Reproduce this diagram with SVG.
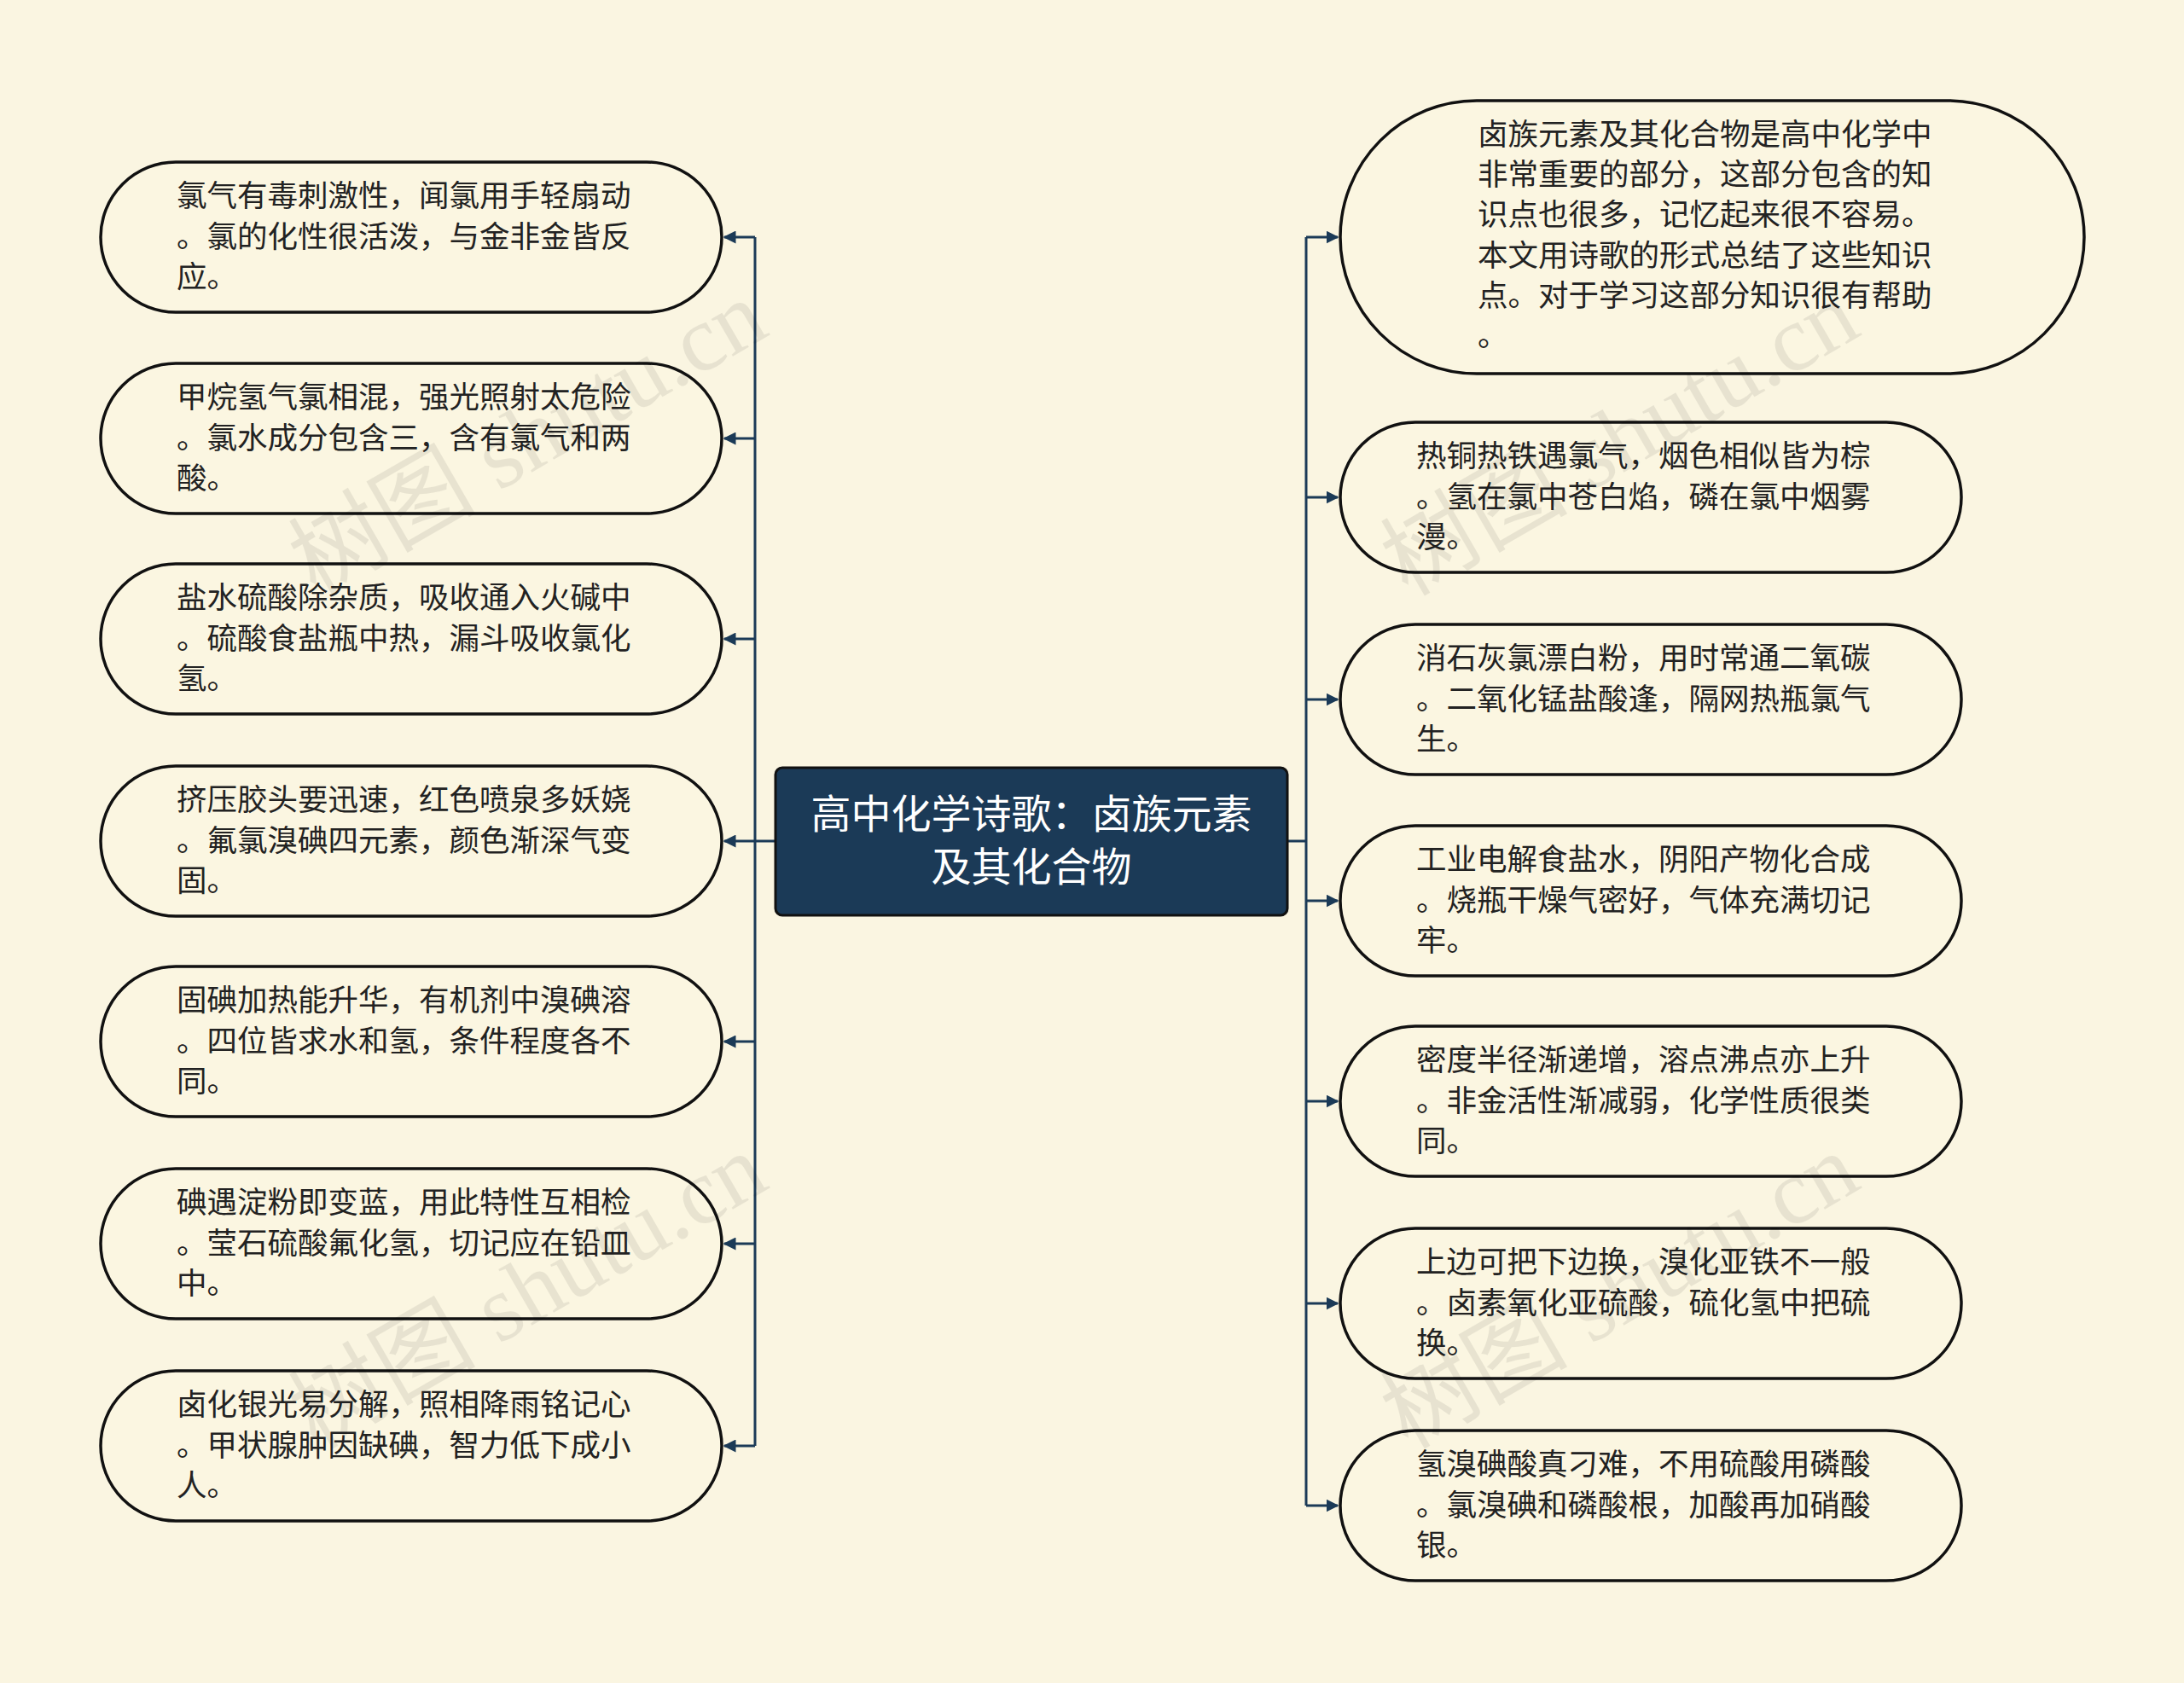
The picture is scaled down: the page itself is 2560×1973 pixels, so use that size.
<svg xmlns="http://www.w3.org/2000/svg" width="2560" height="1973" viewBox="0 0 2560 1973">
<defs>
<style>
.n{fill:#fbf6e1;stroke:#111;stroke-width:3.5}
.t{font-family:"Noto Sans CJK SC",sans-serif;font-size:35.5px;fill:#222}
.c{fill:none;stroke:#1b3a57;stroke-width:3}
.w{font-family:"Liberation Serif","Noto Sans CJK SC",serif;font-size:110px;fill:#000;opacity:0.07}
</style>
<marker id="a" viewBox="0 0 10 10" refX="9" refY="5" markerWidth="5" markerHeight="5" orient="auto"><path d="M0,0L10,5L0,10z" fill="#1b3a57"/></marker>
</defs>
<rect width="2560" height="1973" fill="#faf5e1"/>
<g id="connectors">
<path class="c" d="M1509,986H1531M1531,278V1765"/>
<path class="c" d="M1531,278H1568" marker-end="url(#a)"/><path class="c" d="M1531,583H1568" marker-end="url(#a)"/><path class="c" d="M1531,820H1568" marker-end="url(#a)"/><path class="c" d="M1531,1056H1568" marker-end="url(#a)"/><path class="c" d="M1531,1291H1568" marker-end="url(#a)"/><path class="c" d="M1531,1528H1568" marker-end="url(#a)"/><path class="c" d="M1531,1765H1568" marker-end="url(#a)"/>
<path class="c" d="M909,986H885M885,278V1695"/>
<path class="c" d="M885,278H849" marker-end="url(#a)"/><path class="c" d="M885,514H849" marker-end="url(#a)"/><path class="c" d="M885,749H849" marker-end="url(#a)"/><path class="c" d="M885,986H849" marker-end="url(#a)"/><path class="c" d="M885,1221H849" marker-end="url(#a)"/><path class="c" d="M885,1458H849" marker-end="url(#a)"/><path class="c" d="M885,1695H849" marker-end="url(#a)"/>
</g>
<g id="center"><rect x="909" y="900" width="600" height="173" rx="8" fill="#1b3a57" stroke="#111" stroke-width="3"/>
<text x="1209" y="971" text-anchor="middle" font-family="Noto Sans CJK SC,sans-serif" font-size="47" fill="#fff">高中化学诗歌：卤族元素</text>
<text x="1209" y="1033" text-anchor="middle" font-family="Noto Sans CJK SC,sans-serif" font-size="47" fill="#fff">及其化合物</text></g>
<g id="L1"><rect class="n" x="118" y="190" width="728" height="176" rx="88"/><text class="t" x="207" y="242">氯气有毒刺激性，闻氯用手轻扇动</text><text class="t" x="207" y="290">。氯的化性很活泼，与金非金皆反</text><text class="t" x="207" y="337">应。</text></g>
<g id="L2"><rect class="n" x="118" y="426" width="728" height="176" rx="88"/><text class="t" x="207" y="478">甲烷氢气氯相混，强光照射太危险</text><text class="t" x="207" y="526">。氯水成分包含三，含有氯气和两</text><text class="t" x="207" y="573">酸。</text></g>
<g id="L3"><rect class="n" x="118" y="661" width="728" height="176" rx="88"/><text class="t" x="207" y="713">盐水硫酸除杂质，吸收通入火碱中</text><text class="t" x="207" y="761">。硫酸食盐瓶中热，漏斗吸收氯化</text><text class="t" x="207" y="808">氢。</text></g>
<g id="L4"><rect class="n" x="118" y="898" width="728" height="176" rx="88"/><text class="t" x="207" y="950">挤压胶头要迅速，红色喷泉多妖娆</text><text class="t" x="207" y="998">。氟氯溴碘四元素，颜色渐深气变</text><text class="t" x="207" y="1045">固。</text></g>
<g id="L5"><rect class="n" x="118" y="1133" width="728" height="176" rx="88"/><text class="t" x="207" y="1185">固碘加热能升华，有机剂中溴碘溶</text><text class="t" x="207" y="1233">。四位皆求水和氢，条件程度各不</text><text class="t" x="207" y="1280">同。</text></g>
<g id="L6"><rect class="n" x="118" y="1370" width="728" height="176" rx="88"/><text class="t" x="207" y="1422">碘遇淀粉即变蓝，用此特性互相检</text><text class="t" x="207" y="1470">。莹石硫酸氟化氢，切记应在铅皿</text><text class="t" x="207" y="1517">中。</text></g>
<g id="L7"><rect class="n" x="118" y="1607" width="728" height="176" rx="88"/><text class="t" x="207" y="1659">卤化银光易分解，照相降雨铭记心</text><text class="t" x="207" y="1707">。甲状腺肿因缺碘，智力低下成小</text><text class="t" x="207" y="1754">人。</text></g>
<g id="R1"><rect class="n" x="1571" y="118" width="872" height="320" rx="160"/><text class="t" x="1732" y="170">卤族元素及其化合物是高中化学中</text><text class="t" x="1732" y="217">非常重要的部分，这部分包含的知</text><text class="t" x="1732" y="264">识点也很多，记忆起来很不容易。</text><text class="t" x="1732" y="312">本文用诗歌的形式总结了这些知识</text><text class="t" x="1732" y="359">点。对于学习这部分知识很有帮助</text><text class="t" x="1732" y="406">。</text></g>
<g id="R2"><rect class="n" x="1571" y="495" width="728" height="176" rx="88"/><text class="t" x="1660" y="547">热铜热铁遇氯气，烟色相似皆为棕</text><text class="t" x="1660" y="595">。氢在氯中苍白焰，磷在氯中烟雾</text><text class="t" x="1660" y="642">漫。</text></g>
<g id="R3"><rect class="n" x="1571" y="732" width="728" height="176" rx="88"/><text class="t" x="1660" y="784">消石灰氯漂白粉，用时常通二氧碳</text><text class="t" x="1660" y="832">。二氧化锰盐酸逢，隔网热瓶氯气</text><text class="t" x="1660" y="879">生。</text></g>
<g id="R4"><rect class="n" x="1571" y="968" width="728" height="176" rx="88"/><text class="t" x="1660" y="1020">工业电解食盐水，阴阳产物化合成</text><text class="t" x="1660" y="1068">。烧瓶干燥气密好，气体充满切记</text><text class="t" x="1660" y="1115">牢。</text></g>
<g id="R5"><rect class="n" x="1571" y="1203" width="728" height="176" rx="88"/><text class="t" x="1660" y="1255">密度半径渐递增，溶点沸点亦上升</text><text class="t" x="1660" y="1303">。非金活性渐减弱，化学性质很类</text><text class="t" x="1660" y="1350">同。</text></g>
<g id="R6"><rect class="n" x="1571" y="1440" width="728" height="176" rx="88"/><text class="t" x="1660" y="1492">上边可把下边换，溴化亚铁不一般</text><text class="t" x="1660" y="1540">。卤素氧化亚硫酸，硫化氢中把硫</text><text class="t" x="1660" y="1587">换。</text></g>
<g id="R7"><rect class="n" x="1571" y="1677" width="728" height="176" rx="88"/><text class="t" x="1660" y="1729">氢溴碘酸真刁难，不用硫酸用磷酸</text><text class="t" x="1660" y="1777">。氯溴碘和磷酸根，加酸再加硝酸</text><text class="t" x="1660" y="1824">银。</text></g>
<g id="watermarks">
<text class="w" transform="translate(370,700) rotate(-30)">树图 shutu.cn</text>
<text class="w" transform="translate(370,1700) rotate(-30)">树图 shutu.cn</text>
<text class="w" transform="translate(1650,700) rotate(-30)">树图 shutu.cn</text>
<text class="w" transform="translate(1650,1700) rotate(-30)">树图 shutu.cn</text>
</g>
</svg>
